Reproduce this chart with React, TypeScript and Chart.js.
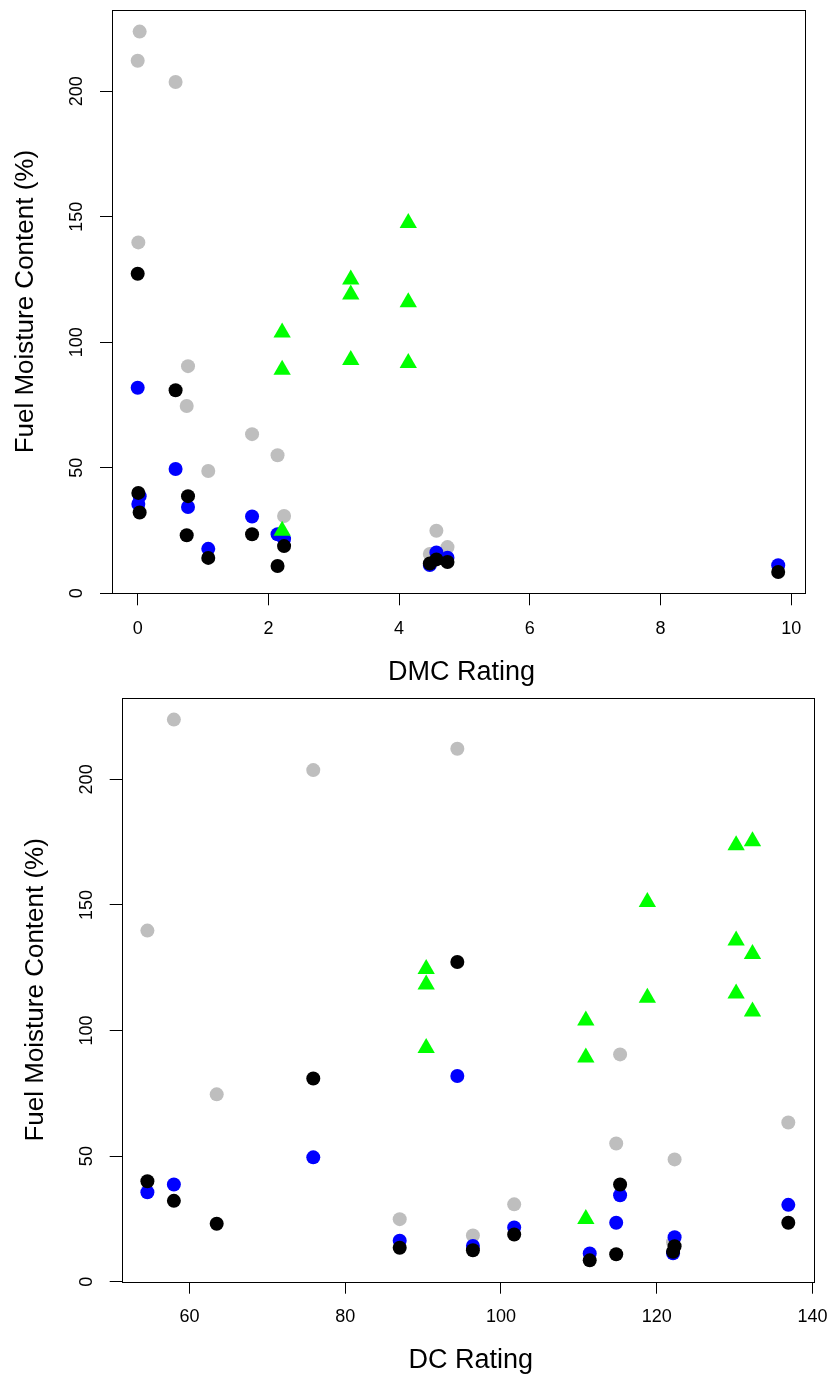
import React, { useEffect, useRef } from "react";
import { Chart, registerables } from "chart.js";
Chart.register(...registerables);

// Samples: DMC rating, DC rating and fuel moisture content (%) per fuel type
const dmcRating = [0.0, 0.03, 0.01, 0.58, 0.77, 0.75, 1.75, 2.14, 1.08, 2.24, 4.57, 4.74, 4.47, 9.8];
const dcRating = [94.4, 58.0, 54.6, 75.9, 115.3, 63.5, 136.9, 114.8, 122.3, 101.7, 87.0, 96.4, 122.1, 111.4];
const grayFMC = [212.2, 223.8, 139.8, 203.7, 90.5, 74.6, 63.4, 55.0, 48.7, 30.8, 24.9, 18.4, 15.7, null];
const blueFMC = [81.9, 38.7, 35.6, 49.5, 34.4, null, 30.6, 23.5, 17.7, 21.6, 16.3, 14.2, 11.3, 11.2];
const blackFMC = [127.3, 32.2, 40.0, 80.9, 38.7, 23.1, 23.5, 10.9, 14.1, 18.8, 13.5, 12.5, 11.9, 8.5];

const greenDMC = [2.21, 2.21, 2.21, 3.26, 3.26, 3.26, 4.14, 4.14, 4.14];
const greenDMCFMC = [103.9, 89.1, 24.9, 125.0, 119.0, 93.0, 147.5, 116.0, 91.8];
const greenDC = [90.4, 90.4, 90.4, 110.9, 110.9, 110.9, 118.8, 118.8, 130.2, 130.2, 130.2, 132.3, 132.3, 132.3];
const greenDCFMC = [124.5, 118.3, 93.0, 104.0, 89.3, 25.0, 151.2, 113.1, 173.8, 135.8, 114.7, 175.4, 130.5, 107.6];

const dmcTicks = [0, 2, 4, 6, 8, 10];
const dcTicks = [60, 80, 100, 120, 140];
const fmcTicks = [0, 50, 100, 150, 200];

const FONT = "'Liberation Sans', Arial, Helvetica, sans-serif";

function pts(xs: number[], ys: (number | null)[]) {
  const out: { x: number; y: number }[] = [];
  xs.forEach((x, i) => {
    const y = ys[i];
    if (y !== null && y !== undefined) out.push({ x, y });
  });
  return out;
}

function makePlugin(xTitle: string, yTitle: string) {
  return {
    id: "rAxes",
    afterDraw(chart: any) {
      const { ctx, chartArea: a } = chart;
      const xs = chart.scales.x;
      const ys = chart.scales.y;
      ctx.save();
      ctx.strokeStyle = "#000";
      ctx.lineWidth = 1;
      const l = Math.round(a.left) + 0.5;
      const t = Math.round(a.top) + 0.5;
      const r = Math.round(a.right) + 0.5;
      const b = Math.round(a.bottom) + 0.5;
      ctx.strokeRect(l, t, r - l, b - t);
      ctx.fillStyle = "#000";
      // x tick labels
      ctx.font = `18px ${FONT}`;
      ctx.textAlign = "center";
      ctx.textBaseline = "alphabetic";
      xs.ticks.forEach((tk: any) => {
        const px = xs.getPixelForValue(tk.value);
        ctx.fillText(String(tk.value), px, a.bottom + 40.7);
      });
      // y tick labels (rotated)
      ys.ticks.forEach((tk: any) => {
        const py = ys.getPixelForValue(tk.value);
        ctx.save();
        ctx.translate(a.left - 30, py);
        ctx.rotate(-Math.PI / 2);
        ctx.fillText(String(tk.value), 0, 0);
        ctx.restore();
      });
      // titles
      ctx.font = `27px ${FONT}`;
      ctx.fillText(xTitle, (a.left + a.right) / 2 + 3, a.bottom + 86.3);
      ctx.font = `26px ${FONT}`;
      ctx.save();
      ctx.translate(a.left - 79, (a.top + a.bottom) / 2);
      ctx.rotate(-Math.PI / 2);
      ctx.fillText(yTitle, 0, 0);
      ctx.restore();
      ctx.restore();
    },
  };
}

type Cfg = {
  xVals: number[];
  gx: number[];
  gy: number[];
  xMin: number;
  xMax: number;
  xTicks: number[];
  xTitle: string;
  left: number;
  right: number;
  bottom: number;
};

function Panel({ cfg }: { cfg: Cfg }) {
  const ref = useRef<HTMLCanvasElement>(null);
  useEffect(() => {
    if (!ref.current) return;
    const circle = (label: string, color: string, ys: (number | null)[]) => ({
      label,
      data: pts(cfg.xVals, ys),
      pointStyle: "circle",
      pointRadius: 7,
      pointHoverRadius: 7,
      pointBorderWidth: 0,
      backgroundColor: color,
      borderColor: color,
      showLine: false,
    });
    const chart = new Chart(ref.current, {
      type: "scatter",
      data: {
        datasets: [
          {
            label: "green",
            data: pts(cfg.gx, cfg.gy),
            pointStyle: "triangle",
            pointRadius: 10,
            pointHoverRadius: 10,
            pointBorderWidth: 0,
            backgroundColor: "#00FF00",
            borderColor: "#00FF00",
            showLine: false,
          },
          circle("black", "#000000", blackFMC),
          circle("blue", "#0000FF", blueFMC),
          circle("gray", "#BEBEBE", grayFMC),
        ] as any,
      },
      options: {
        responsive: false,
        animation: false,
        events: [],
        layout: { padding: { left: 0, top: 9.3, right: 833 - cfg.right, bottom: 0 } },
        plugins: { legend: { display: false }, tooltip: { enabled: false } },
        scales: {
          x: {
            type: "linear",
            min: cfg.xMin,
            max: cfg.xMax,
            afterBuildTicks: (s: any) => {
              s.ticks = cfg.xTicks.map((v) => ({ value: v }));
            },
            afterFit: (s: any) => {
              s.height = 688 - cfg.bottom;
            },
            ticks: { display: false },
            border: { display: false },
            grid: {
              drawOnChartArea: false,
              drawTicks: true,
              tickLength: 12,
              color: "#000",
              lineWidth: 1,
            },
          },
          y: {
            type: "linear",
            min: 0,
            max: 232.4,
            afterBuildTicks: (s: any) => {
              s.ticks = fmcTicks.map((v) => ({ value: v }));
            },
            afterFit: (s: any) => {
              s.width = cfg.left;
            },
            ticks: { display: false },
            border: { display: false },
            grid: {
              drawOnChartArea: false,
              drawTicks: true,
              tickLength: 12,
              color: "#000",
              lineWidth: 1,
            },
          },
        },
      } as any,
      plugins: [makePlugin(cfg.xTitle, "Fuel Moisture Content (%)")],
    });
    return () => chart.destroy();
  }, [cfg]);
  return <canvas ref={ref} width={833} height={688} style={{ display: "block", width: 833, height: 688 }} />;
}

const topCfg: Cfg = {
  xVals: dmcRating,
  gx: greenDMC,
  gy: greenDMCFMC,
  xMin: -0.393,
  xMax: 10.21,
  xTicks: dmcTicks,
  xTitle: "DMC Rating",
  left: 112,
  right: 805,
  bottom: 593.3,
};

const bottomCfg: Cfg = {
  xVals: dcRating,
  gx: greenDC,
  gy: greenDCFMC,
  xMin: 51.3,
  xMax: 140.2,
  xTicks: dcTicks,
  xTitle: "DC Rating",
  left: 121.7,
  right: 814,
  bottom: 593.7,
};

export default function App() {
  return (
    <div style={{ position: "absolute", left: 0, top: 0, width: 833, height: 1376, background: "#fff" }}>
      <Panel cfg={topCfg} />
      <Panel cfg={bottomCfg} />
    </div>
  );
}
